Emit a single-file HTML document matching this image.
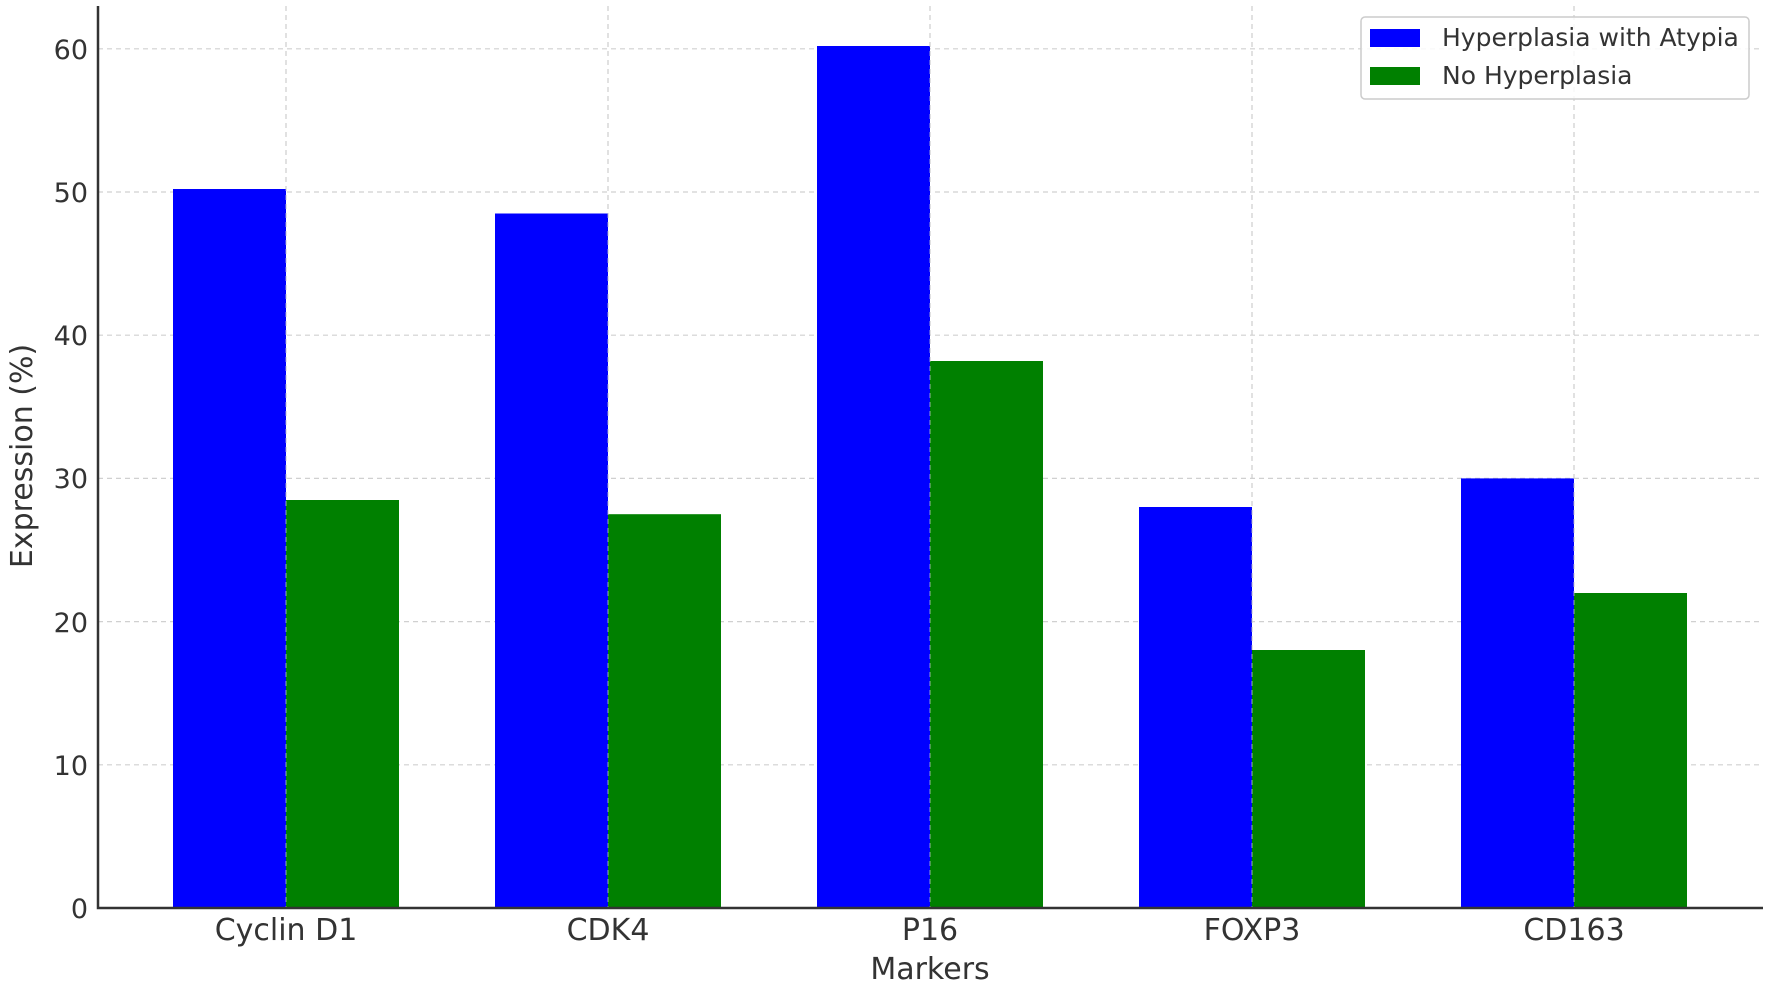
<!DOCTYPE html>
<html><head><style>body{margin:0;background:#fff}svg{display:block}</style></head><body>
<svg width="1772" height="985" xmlns="http://www.w3.org/2000/svg" font-family="DejaVu Sans, Liberation Sans, sans-serif" fill="#333">
<g stroke="#d0d0d0" stroke-width="1.2" stroke-dasharray="5,4">
<line x1="98" x2="1763" y1="764.8" y2="764.8"/>
<line x1="98" x2="1763" y1="621.6" y2="621.6"/>
<line x1="98" x2="1763" y1="478.4" y2="478.4"/>
<line x1="98" x2="1763" y1="335.2" y2="335.2"/>
<line x1="98" x2="1763" y1="192" y2="192"/>
<line x1="98" x2="1763" y1="48.8" y2="48.8"/>
<line x1="286" x2="286" y1="6" y2="908"/>
<line x1="608" x2="608" y1="6" y2="908"/>
<line x1="930" x2="930" y1="6" y2="908"/>
<line x1="1252" x2="1252" y1="6" y2="908"/>
<line x1="1574" x2="1574" y1="6" y2="908"/>
</g>
<g fill="#0000ff">
<rect x="173" y="189" width="113" height="719"/>
<rect x="495" y="213.5" width="113" height="694.5"/>
<rect x="817" y="46" width="113" height="862"/>
<rect x="1139" y="507" width="113" height="401"/>
<rect x="1461" y="478.4" width="113" height="429.6"/>
</g>
<g fill="#008000">
<rect x="286" y="500" width="113" height="408"/>
<rect x="608" y="514.2" width="113" height="393.8"/>
<rect x="930" y="361" width="113" height="547"/>
<rect x="1252" y="650" width="113" height="258"/>
<rect x="1574" y="593" width="113" height="315"/>
</g>
<g stroke="#d0d0d0" stroke-width="1.2" stroke-dasharray="5,4" opacity="0.6">
<line x1="286" x2="286" y1="6" y2="908"/><line x1="608" x2="608" y1="6" y2="908"/><line x1="930" x2="930" y1="6" y2="908"/><line x1="1252" x2="1252" y1="6" y2="908"/><line x1="1574" x2="1574" y1="6" y2="908"/>
</g>
<path d="M98 6 V908 H1763" fill="none" stroke="#333" stroke-width="2.5"/>
<g font-size="27" text-anchor="end">
<text x="88" y="918">0</text><text x="88" y="775">10</text><text x="88" y="632">20</text><text x="88" y="488">30</text><text x="88" y="345">40</text><text x="88" y="202">50</text><text x="88" y="59">60</text>
</g>
<g font-size="30" text-anchor="middle">
<text x="286" y="940">Cyclin D1</text><text x="608" y="940">CDK4</text><text x="930" y="940">P16</text><text x="1252" y="940">FOXP3</text><text x="1574" y="940">CD163</text>
<text x="930" y="979">Markers</text>
<text transform="translate(32,456) rotate(-90)">Expression (%)</text>
</g>
<rect x="1361" y="17" width="388" height="82" rx="4" fill="#fff" fill-opacity="0.85" stroke="#ccc" stroke-width="1.5"/>
<rect x="1370" y="29" width="50" height="18" fill="#0000ff"/>
<rect x="1370" y="67" width="50" height="18" fill="#008000"/>
<g font-size="25"><text x="1442" y="46">Hyperplasia with Atypia</text><text x="1442" y="84">No Hyperplasia</text></g>
</svg>
</body></html>
